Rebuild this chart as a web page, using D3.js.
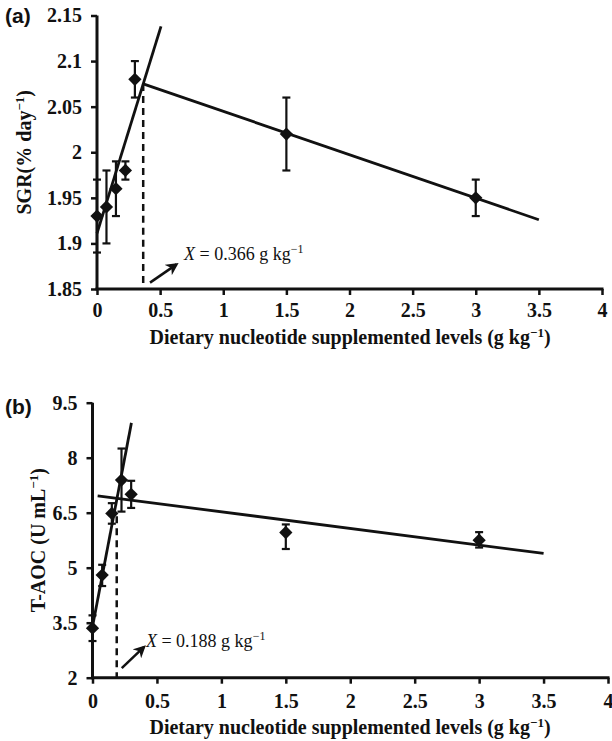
<!DOCTYPE html>
<html><head><meta charset="utf-8">
<script src="https://cdn.jsdelivr.net/npm/d3@7"></script>
<style>
html,body{margin:0;padding:0;background:#fff;}
svg{display:block;}
text{fill:#111;}
.serif{font-family:"Liberation Serif","Times New Roman",Times,serif;}
.sans{font-family:"Liberation Sans",Arial,Helvetica,sans-serif;}
</style></head>
<body>
<svg id="c" width="612" height="741"></svg>
<script>
// ---------- data ----------
const levels = [0, 0.075, 0.15, 0.225, 0.3, 1.5, 3];
const xTicks = [0, 0.5, 1, 1.5, 2, 2.5, 3, 3.5, 4];

// panel (a) SGR
const sgrMean = [1.93, 1.94, 1.96, 1.98, 2.08, 2.02, 1.95];
const sgrErr  = [0.04, 0.04, 0.03, 0.01, 0.02, 0.04, 0.02];
const sgrTicks = [1.85, 1.9, 1.95, 2, 2.05, 2.1, 2.15];
const sgrFit1 = [[0, 1.911], [0.507, 2.138]];
const sgrFit2 = [[0.366, 2.075], [3.5, 1.926]];
const sgrBreak = [[0.366, 2.075], [0.366, 1.85]];
const sgrArrow = [[0.42, 1.857], [0.63, 1.877]];
const sgrLabelPos = [0.69, 1.882];

// panel (b) T-AOC
const taocMean = [3.35, 4.8, 6.48, 7.39, 7.0, 5.96, 5.75];
const taocErrUp   = [0.35, 0.28, 0.28, 0.86, 0.37, 0.22, 0.22];
const taocErrDown = [0.35, 0.3, 0.28, 0.86, 0.37, 0.45, 0.2];
const taocTicks = [2, 3.5, 5, 6.5, 8, 9.5];
const taocFit1 = [[0, 3.39], [0.302, 8.95]];
const taocFit2 = [[0.04, 6.96], [3.5, 5.39]];
const taocBreak = [[0.188, 6.4], [0.188, 2]];
const taocArrow = [[0.227, 2.26], [0.40, 2.84]];
const taocLabelPos = [0.415, 2.84];

const svg = d3.select("#c");
const defs = svg.append("defs");
defs.append("marker").attr("id","ah").attr("viewBox","0 0 10 10")
  .attr("refX",8).attr("refY",5).attr("markerWidth",5).attr("markerHeight",5)
  .attr("orient","auto").attr("markerUnits","strokeWidth")
  .append("path").attr("d","M0,0 L10,5 L0,10 L3,5 Z").attr("fill","#111");

function sup(t, size, dy){
  t.append("tspan").attr("dy",-dy).style("font-size",size+"px").text("−1");
}

function panel(cfg){
  const g = svg.append("g");
  const x = d3.scaleLinear().domain([0,4]).range(cfg.xr);
  const y = d3.scaleLinear().domain(cfg.ydom).range(cfg.yr);

  const xa = g.append("g").attr("transform",`translate(0,${cfg.yr[0]})`)
    .call(d3.axisBottom(x).tickValues(xTicks).tickSize(6).tickPadding(cfg.xpad).tickFormat(d3.format("")));
  const ya = g.append("g").attr("transform",`translate(${cfg.xr[0]},0)`)
    .call(d3.axisLeft(y).tickValues(cfg.ticks).tickSize(6).tickPadding(9).tickFormat(d=>String(d)));
  [xa,ya].forEach(a=>{
    a.attr("font-family",null).attr("font-size",null);
    a.select(".domain").attr("stroke","#111").attr("stroke-width",3);
    a.selectAll(".tick line").attr("stroke","#111").attr("stroke-width",2.5);
    a.selectAll("text").attr("class","serif").style("font-weight","bold")
      .style("font-size","20px").attr("fill","#111");
  });
  xa.select(".domain").attr("d",`M${cfg.xr[0]-1.5},0H${cfg.xr[1]+1.5}`);
  ya.select(".domain").attr("d",`M0,${cfg.yr[0]}V${cfg.yr[1]}`);

  const line = d3.line().x(d=>x(d[0])).y(d=>y(d[1]));
  g.append("path").attr("d",line(cfg.brk)).attr("stroke","#111").attr("stroke-width",2.5)
    .attr("stroke-dasharray","7,5").attr("fill","none");
  [cfg.fit1,cfg.fit2].forEach(f=>{
    g.append("path").attr("d",line(f)).attr("stroke","#111").attr("stroke-width",2.8).attr("fill","none");
  });
  const eb = g.append("g").attr("stroke","#111").attr("stroke-width",2.2);
  levels.forEach((lv,i)=>{
    const hi = y(cfg.mean[i]+cfg.up[i]), lo = y(cfg.mean[i]-cfg.dn[i]), cx = x(lv);
    eb.append("line").attr("x1",cx).attr("x2",cx).attr("y1",hi).attr("y2",lo);
    eb.append("line").attr("x1",cx-4).attr("x2",cx+4).attr("y1",hi).attr("y2",hi);
    eb.append("line").attr("x1",cx-4).attr("x2",cx+4).attr("y1",lo).attr("y2",lo);
  });
  const sym = d3.symbol().type(d3.symbolSquare).size(88);
  g.append("g").selectAll("path").data(levels).join("path")
    .attr("d",sym()).attr("fill","#111")
    .attr("transform",(d,i)=>`translate(${x(d)},${y(cfg.mean[i])}) rotate(45)`);
  g.append("path").attr("d",line(cfg.arrow)).attr("stroke","#111").attr("stroke-width",2.5)
    .attr("fill","none").attr("marker-end","url(#ah)");
  const t = g.append("text").attr("class","serif").attr("x",x(cfg.labelPos[0])).attr("y",y(cfg.labelPos[1]))
    .style("font-size","18px");
  t.append("tspan").style("font-style","italic").text("X");
  t.append("tspan").text(" = "+cfg.labelVal+" g kg");
  sup(t,12,7);

  const yt = g.append("text").attr("class","serif")
    .attr("transform",`translate(${cfg.ytx},${(cfg.yr[0]+cfg.yr[1])/2}) rotate(-90)`)
    .attr("text-anchor","middle").style("font-weight","bold").style("font-size","20px");
  yt.append("tspan").text(cfg.ytitle);
  sup(yt,13,7);
  yt.append("tspan").attr("dy",7).text(")");

  const xt = g.append("text").attr("class","serif").attr("x",350).attr("y",cfg.xty).attr("text-anchor","middle")
    .style("font-weight","bold").style("font-size","20px");
  xt.append("tspan").text("Dietary nucleotide supplemented levels (g kg");
  sup(xt,13,7);
  xt.append("tspan").attr("dy",7).text(")");

  g.append("text").attr("class","sans").attr("x",5).attr("y",cfg.lety)
    .style("font-weight","bold").style("font-size","21px").text(cfg.letter);
}

panel({xr:[97,602], yr:[289,15.5], ydom:[1.85,2.15], ticks:sgrTicks,
  mean:sgrMean, up:sgrErr, dn:sgrErr, fit1:sgrFit1, fit2:sgrFit2, brk:sgrBreak,
  arrow:sgrArrow, labelPos:sgrLabelPos, labelVal:"0.366", ytx:31, xty:344, lety:23, letter:"(a)", xpad:8,
  ytitle:"SGR(% day"});
panel({xr:[92.5,608], yr:[677.7,402.7], ydom:[2,9.5], ticks:taocTicks,
  mean:taocMean, up:taocErrUp, dn:taocErrDown, fit1:taocFit1, fit2:taocFit2, brk:taocBreak,
  arrow:taocArrow, labelPos:taocLabelPos, labelVal:"0.188", ytx:45, xty:734, lety:414, letter:"(b)", xpad:10,
  ytitle:"T-AOC (U mL"});
</script>
</body></html>
